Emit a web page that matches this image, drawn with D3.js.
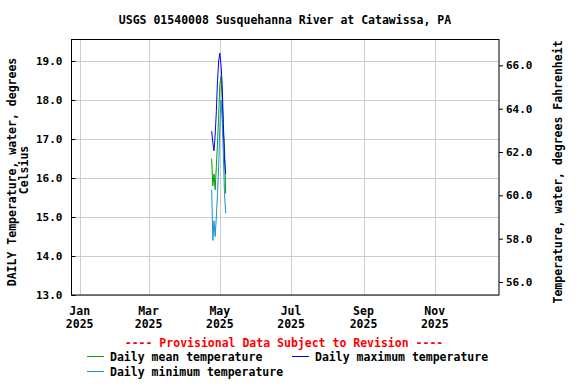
<!DOCTYPE html>
<html>
<head>
<meta charset="utf-8">
<script src="https://cdn.jsdelivr.net/npm/d3@7"></script>
<style>
  body { margin: 0; background: #fff; }
  text { font-family: "DejaVu Sans Mono", monospace; font-weight: bold; font-size: 11.5px; }
  .tick text { font-size: 11px; }
</style>
</head>
<body>
<div id="chart"></div>
<script>
// données
const dates = ["2025-04-24", "2025-04-25", "2025-04-26", "2025-04-27", "2025-04-28", "2025-04-29", "2025-04-30",
    "2025-05-01", "2025-05-02", "2025-05-03", "2025-05-04", "2025-05-05", "2025-05-06"];
const maxTemp = [17.2, 16.9, 16.7, 17.1, 17.7, 18.5, 19.0, 19.2, 18.9, 18.4, 17.4, 16.5, 16.1];
const meanTemp = [16.5, 15.8, 16.1, 15.7, 16.3, 16.9, 17.6, 18.4, 18.6, 18.0, 17.2, 16.8, 15.6];
const minTemp = [15.7, 14.4, 14.9, 14.5, 15.0, 15.6, 16.3, 17.3, 18.0, 17.5, 16.6, 15.6, 15.1];
const celsiusTicks = [13, 14, 15, 16, 17, 18, 19];
const fahrenheitTicks = [56, 58, 60, 62, 64, 66];
const monthTicks = ["2025-01-01", "2025-03-01", "2025-05-01", "2025-07-01", "2025-09-01", "2025-11-01"];

const width = 576, height = 384;
const plotLeft = 71.5, plotRight = 499, plotTop = 39.5, plotBottom = 295;
const parse = d3.timeParse("%Y-%m-%d");

const svg = d3.select("#chart").append("svg")
    .attr("width", width)
    .attr("height", height);

const x = d3.scaleTime()
    .domain([parse("2024-12-25"), parse("2025-12-26")])
    .range([plotLeft, plotRight]);

const y = d3.scaleLinear()
    .domain([13, 13 + (plotBottom - plotTop) / 39])
    .range([plotBottom, plotTop]);

const yF = d3.scaleLinear()
    .domain(y.domain().map(c => c * 1.8 + 32))
    .range([plotBottom, plotTop]);

// grille
svg.append("g")
    .selectAll("line")
    .data(celsiusTicks)
    .join("line")
    .attr("x1", plotLeft).attr("x2", plotRight)
    .attr("y1", d => Math.round(y(d)) + 0.5).attr("y2", d => Math.round(y(d)) + 0.5)
    .attr("stroke", "#cccccc");

svg.append("g")
    .selectAll("line")
    .data(monthTicks.map(parse))
    .join("line")
    .attr("x1", d => Math.round(x(d)) + 0.5).attr("x2", d => Math.round(x(d)) + 0.5)
    .attr("y1", plotTop).attr("y2", plotBottom)
    .attr("stroke", "#cccccc");

// axe gauche (Celsius)
svg.append("g")
    .attr("transform", `translate(${plotLeft},0)`)
    .call(d3.axisLeft(y).tickValues(celsiusTicks).tickSize(-4).tickPadding(9).tickFormat(d3.format(".1f")))
    .call(g => g.select(".domain").remove())
    .selectAll("text")
    .attr("fill", "#000");

// axe droit (Fahrenheit)
svg.append("g")
    .attr("transform", `translate(${plotRight},0)`)
    .call(d3.axisRight(yF).tickValues(fahrenheitTicks).tickSize(4).tickPadding(3).tickFormat(d3.format(".1f")))
    .call(g => g.select(".domain").remove())
    .selectAll("text")
    .attr("fill", "#000");

// axe du bas : mois + année
const xLabels = svg.append("g")
    .selectAll("text")
    .data(monthTicks.map(parse))
    .join("text")
    .attr("x", d => x(d))
    .attr("text-anchor", "middle");
xLabels.append("tspan").attr("x", d => x(d)).attr("y", 315).text(d3.timeFormat("%b"));
xLabels.append("tspan").attr("x", d => x(d)).attr("y", 328).text(d3.timeFormat("%Y"));

// cadre
svg.append("rect")
    .attr("x", plotLeft).attr("y", plotTop)
    .attr("width", plotRight - plotLeft).attr("height", plotBottom - plotTop)
    .attr("fill", "none")
    .attr("stroke", "#000");

// séries
const series = [
    { name: "Daily minimum temperature", values: minTemp, color: "#1a8fd8" },
    { name: "Daily mean temperature", values: meanTemp, color: "#00a000" },
    { name: "Daily maximum temperature", values: maxTemp, color: "#0000ff" }
];

const line = d3.line()
    .x(d => x(d[0]))
    .y(d => y(d[1]));

svg.append("g")
    .selectAll("path")
    .data(series)
    .join("path")
    .attr("d", s => line(dates.map((d, i) => [parse(d), s.values[i]])))
    .attr("fill", "none")
    .attr("stroke", s => s.color)
    .attr("stroke-width", 1);

// titres
svg.append("text")
    .attr("x", 285).attr("y", 24)
    .attr("text-anchor", "middle")
    .text("USGS 01540008 Susquehanna River at Catawissa, PA");

svg.append("text")
    .attr("transform", `translate(16,172) rotate(-90)`)
    .attr("text-anchor", "middle")
    .text("DAILY Temperature, water, degrees");
svg.append("text")
    .attr("transform", `translate(28,170) rotate(-90)`)
    .attr("text-anchor", "middle")
    .text("Celsius");

svg.append("text")
    .attr("transform", `translate(562,172) rotate(-90)`)
    .attr("text-anchor", "middle")
    .text("Temperature, water, degrees Fahrenheit");

svg.append("text")
    .attr("x", 284).attr("y", 347)
    .attr("text-anchor", "middle")
    .attr("fill", "#ff0000")
    .text("---- Provisional Data Subject to Revision ----");

// légende
const legend = [
    { label: "Daily mean temperature", color: "#00a000", lx: 87, ly: 357 },
    { label: "Daily maximum temperature", color: "#0000ff", lx: 292, ly: 357 },
    { label: "Daily minimum temperature", color: "#1a8fd8", lx: 87, ly: 372 }
];
const lg = svg.append("g").selectAll("g").data(legend).join("g");
lg.append("line")
    .attr("x1", d => d.lx).attr("x2", d => d.lx + 17)
    .attr("y1", d => d.ly - 0.5).attr("y2", d => d.ly - 0.5)
    .attr("stroke", d => d.color);
lg.append("text")
    .attr("x", d => d.lx + 23).attr("y", d => d.ly + 4)
    .text(d => d.label);
</script>
</body>
</html>
